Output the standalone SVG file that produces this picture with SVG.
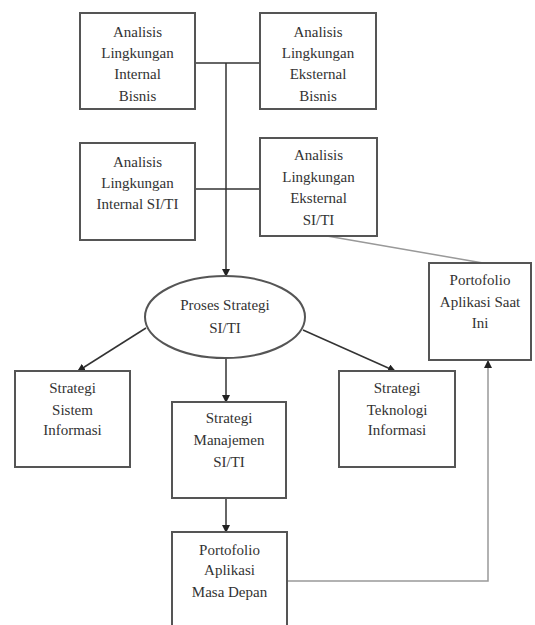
<svg xmlns="http://www.w3.org/2000/svg" width="535" height="625" viewBox="0 0 535 625">
<style>
.box{fill:#fff;stroke:#555;stroke-width:2}
.t{font-family:"Liberation Serif","Times New Roman",serif;font-size:15px;fill:#333;text-anchor:middle}
.c{fill:none;stroke:#333;stroke-width:1.5}
.g{fill:none;stroke:#999;stroke-width:1.5}
</style>
<defs>
<marker id="ah" markerWidth="8" markerHeight="8" refX="7" refY="4" orient="auto" markerUnits="userSpaceOnUse">
<path d="M0,0 L8,4 L0,8 Z" fill="#222"/>
</marker>
</defs>
<rect width="535" height="625" fill="#fff"/>
<g id="connectors">
<path class="c" d="M195,63 H260"/>
<path class="c" d="M195,189 H260"/>
<path class="c" d="M226,63 V276" marker-end="url(#ah)"/>
<path class="c" d="M146,328 L78,371" marker-end="url(#ah)"/>
<path class="c" d="M303,330 L395,371" marker-end="url(#ah)"/>
<path class="c" d="M226,358 V402" marker-end="url(#ah)"/>
<path class="c" d="M226,498 V532" marker-end="url(#ah)"/>
<path class="g" d="M327,236 L483,263"/>
<path class="g" d="M287,581 H488 V361" marker-end="url(#ah)"/>
</g>
<g id="n1"><rect class="box" x="80" y="13" width="115" height="96"/>
<text class="t" x="137.5" y="37">Analisis</text><text class="t" x="137.5" y="58">Lingkungan</text><text class="t" x="137.5" y="79">Internal</text><text class="t" x="137.5" y="101">Bisnis</text></g>
<g id="n2"><rect class="box" x="260" y="13" width="116" height="96"/>
<text class="t" x="318" y="37">Analisis</text><text class="t" x="318" y="58">Lingkungan</text><text class="t" x="318" y="79">Eksternal</text><text class="t" x="318" y="101">Bisnis</text></g>
<g id="n3"><rect class="box" x="80" y="143" width="115" height="97"/>
<text class="t" x="137.5" y="167">Analisis</text><text class="t" x="137.5" y="188">Lingkungan</text><text class="t" x="137.5" y="209">Internal SI/TI</text></g>
<g id="n4"><rect class="box" x="260" y="138" width="117" height="98"/>
<text class="t" x="318.5" y="160">Analisis</text><text class="t" x="318.5" y="182">Lingkungan</text><text class="t" x="318.5" y="203">Eksternal</text><text class="t" x="318.5" y="225">SI/TI</text></g>
<g id="n5"><ellipse cx="225" cy="317" rx="80" ry="41" fill="#fff" stroke="#555" stroke-width="2"/>
<text class="t" x="225" y="310">Proses Strategi</text><text class="t" x="225" y="333">SI/TI</text></g>
<g id="n6"><rect class="box" x="429" y="263" width="102" height="97"/>
<text class="t" x="480" y="285">Portofolio</text><text class="t" x="480" y="307">Aplikasi Saat</text><text class="t" x="480" y="328">Ini</text></g>
<g id="n7"><rect class="box" x="15" y="371" width="115" height="96"/>
<text class="t" x="72.5" y="393">Strategi</text><text class="t" x="72.5" y="415">Sistem</text><text class="t" x="72.5" y="435">Informasi</text></g>
<g id="n8"><rect class="box" x="339" y="371" width="116" height="96"/>
<text class="t" x="397" y="393">Strategi</text><text class="t" x="397" y="415">Teknologi</text><text class="t" x="397" y="435">Informasi</text></g>
<g id="n9"><rect class="box" x="172" y="402" width="114" height="96"/>
<text class="t" x="229" y="423">Strategi</text><text class="t" x="229" y="445">Manajemen</text><text class="t" x="229" y="467">SI/TI</text></g>
<g id="n10"><rect class="box" x="172" y="532" width="115" height="100"/>
<text class="t" x="229.5" y="555">Portofolio</text><text class="t" x="229.5" y="575">Aplikasi</text><text class="t" x="229.5" y="597">Masa Depan</text></g>
</svg>
